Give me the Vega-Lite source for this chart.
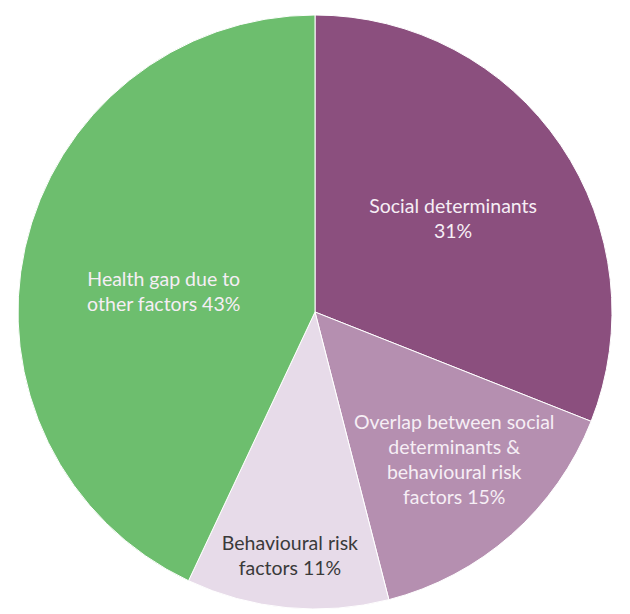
{
  "$schema": "https://vega.github.io/schema/vega-lite/v6.json",
  "width": 630,
  "height": 604,
  "padding": {"top": 10, "left": 0, "right": 0, "bottom": 0},
  "background": "white",
  "view": {"stroke": null},
  "data": {
    "values": [
      {"ord": 1, "cat": "Social determinants", "value": 31, "label": "Social determinants\n31%"},
      {"ord": 2, "cat": "Overlap", "value": 15, "label": "Overlap between social\ndeterminants &\nbehavioural risk\nfactors 15%"},
      {"ord": 3, "cat": "Behavioural risk factors", "value": 11, "label": "Behavioural risk\nfactors 11%"},
      {"ord": 4, "cat": "Health gap due to other factors", "value": 43, "label": "Health gap due to\nother factors 43%"}
    ]
  },
  "encoding": {
    "theta": {"field": "value", "type": "quantitative", "stack": true},
    "order": {"field": "ord", "type": "quantitative", "sort": "ascending"}
  },
  "layer": [
    {
      "mark": {"type": "arc", "radius": 297, "stroke": "white", "strokeWidth": 1},
      "encoding": {
        "color": {
          "field": "cat",
          "type": "nominal",
          "scale": {
            "domain": ["Social determinants", "Overlap", "Behavioural risk factors", "Health gap due to other factors"],
            "range": ["#8b4f7e", "#b58fb0", "#e7dbe9", "#6dbe6e"]
          },
          "legend": null
        }
      }
    },
    {
      "mark": {
        "type": "text",
        "font": "Lato",
        "fontSize": 19.5,
        "lineBreak": "\n",
        "lineHeight": 25,
        "align": "center",
        "baseline": "middle",
        "radius": {"expr": "datum.ord == 1 ? 167 : datum.ord == 2 ? 215 : datum.ord == 3 ? 245 : 155"},
        "dx": {"expr": "datum.ord == 2 ? -3 : datum.ord == 3 ? -2 : 0"},
        "dy": {"expr": "datum.ord == 2 ? -50 : datum.ord == 4 ? 2 : datum.ord == 1 ? -11 : -12"}
      },
      "encoding": {
        "text": {"field": "label"},
        "color": {
          "condition": {"test": "datum.ord == 3", "value": "#3a3a3a"},
          "value": "#f6eef5"
        }
      }
    }
  ]
}
